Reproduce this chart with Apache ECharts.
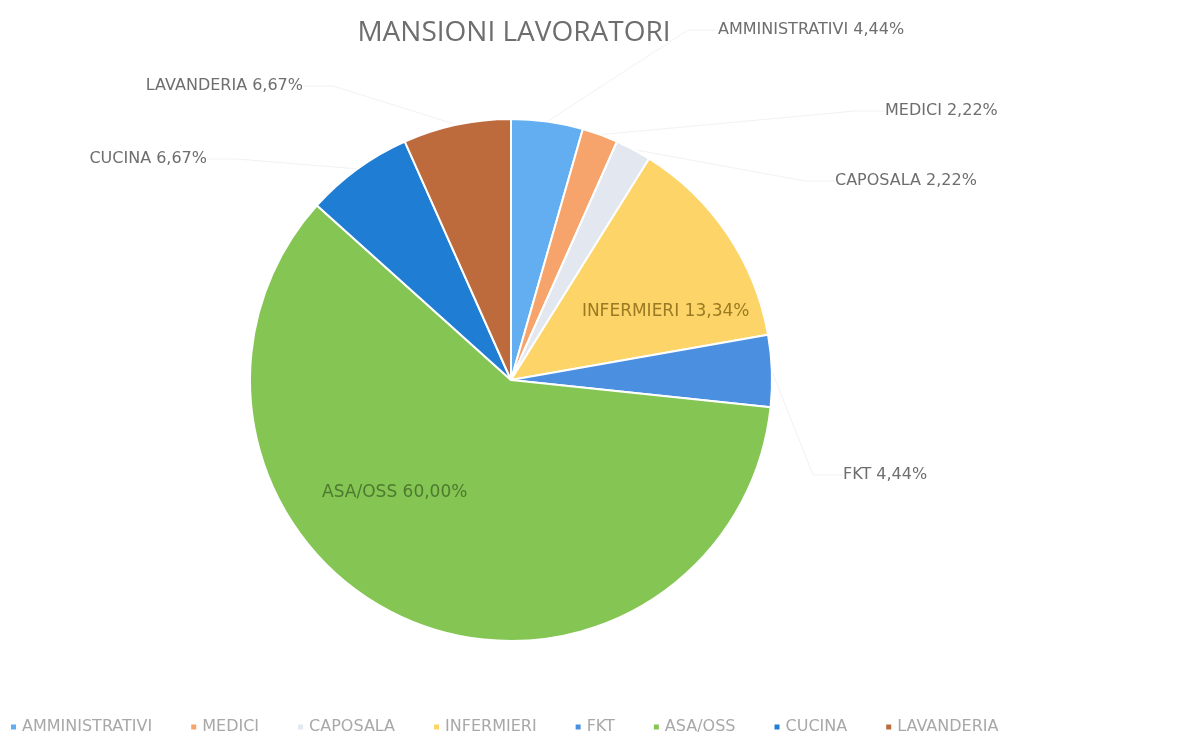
<!DOCTYPE html>
<html>
<head>
<meta charset="utf-8">
<script src="https://cdn.jsdelivr.net/npm/echarts@6/dist/echarts.min.js"></script>
<style>
html,body{margin:0;padding:0;background:#fff;}
#chart{width:1180px;height:736px;}
</style>
</head>
<body>
<div id="chart"></div>
<script>
const categories = ['AMMINISTRATIVI','MEDICI','CAPOSALA','INFERMIERI','FKT','ASA/OSS','CUCINA','LAVANDERIA'];
const values = [4.44, 2.22, 2.22, 13.34, 4.44, 60.00, 6.67, 6.67];
const colors = ['#62aef0','#f6a46c','#e2e7f0','#fdd468','#4a8fe0','#84c553','#1f7dd4','#bd6a3d'];

const insideLabels = { 'INFERMIERI': {color:'#9a7a22', offset:[44, 6]}, 'ASA/OSS': {color:'#4d7a2e', offset:[-62, -9]} };
const outsidePos = {
  'AMMINISTRATIVI': {x:718, y:30, align:'left'},
  'MEDICI': {x:885, y:111, align:'left'},
  'CAPOSALA': {x:835, y:181, align:'left'},
  'FKT': {x:843, y:475, align:'left'},
  'CUCINA': {x:207, y:159, align:'right'},
  'LAVANDERIA': {x:303, y:86, align:'right'}
};

const fmt = p => p.name + ' ' + p.value.toFixed(2).replace('.', ',') + '%';

const data = categories.map((c, i) => {
  const item = { name: c, value: values[i], itemStyle: { color: colors[i] } };
  if (insideLabels[c]) {
    item.label = { position: 'inside', color: insideLabels[c].color, offset: insideLabels[c].offset, fontSize: 17 };
    item.labelLine = { show: false };
  }
  return item;
});

const chart = echarts.init(document.getElementById('chart'));
chart.setOption({
  backgroundColor: '#ffffff',
  animation: false,
  title: {
    text: 'MANSIONI LAVORATORI',
    left: 509, top: 14, textAlign: 'center',
    textStyle: { fontFamily: 'Open Sans', fontWeight: 'normal', fontSize: 28, color: '#6e6e6e' }
  },
  legend: {
    bottom: -4, left: 4,
    itemWidth: 7, itemHeight: 7, itemGap: 37, icon: 'rect',
    textStyle: { fontFamily: 'DejaVu Sans', fontSize: 16, color: '#a8a8a8' },
    data: categories
  },
  series: [{
    type: 'pie',
    center: [511, 380],
    radius: 261,
    startAngle: 90,
    clockwise: true,
    avoidLabelOverlap: false,
    itemStyle: { borderColor: '#ffffff', borderWidth: 2 },
    label: {
      show: true, formatter: fmt,
      fontFamily: 'DejaVu Sans', fontSize: 16, color: '#6e6e6e'
    },
    labelLine: { show: true, length: 20, length2: 30, lineStyle: { color: '#f2f2f2', width: 1 } },
    labelLayout: function (params) {
      const name = categories[params.dataIndex];
      const p = outsidePos[name];
      if (!p) return {};
      return { x: p.x, y: p.y, align: p.align, verticalAlign: 'middle' };
    },
    emphasis: { disabled: true },
    data: data
  }]
});
</script>
</body>
</html>
